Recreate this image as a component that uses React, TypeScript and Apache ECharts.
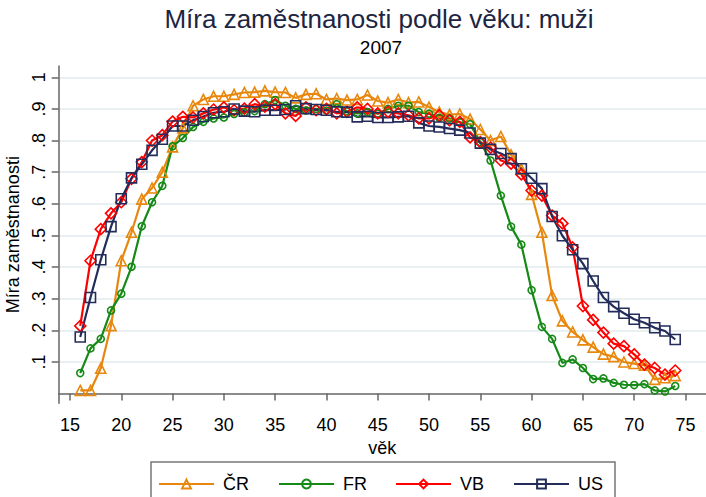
import React, { useEffect, useRef } from 'react';
import * as echarts from 'echarts';

const ages = [16, 17, 18, 19, 20, 21, 22, 23, 24, 25, 26, 27, 28, 29, 30, 31, 32, 33, 34, 35, 36, 37, 38, 39, 40, 41, 42, 43, 44, 45, 46, 47, 48, 49, 50, 51, 52, 53, 54, 55, 56, 57, 58, 59, 60, 61, 62, 63, 64, 65, 66, 67, 68, 69, 70, 71, 72, 73, 74];

const crValues = [0.01, 0.01, 0.08, 0.215, 0.42, 0.51, 0.615, 0.65, 0.70, 0.78, 0.84, 0.91, 0.93, 0.94, 0.94, 0.946, 0.952, 0.953, 0.957, 0.953, 0.952, 0.935, 0.946, 0.948, 0.93, 0.933, 0.928, 0.93, 0.944, 0.925, 0.92, 0.93, 0.92, 0.922, 0.906, 0.89, 0.882, 0.884, 0.868, 0.835, 0.80, 0.813, 0.755, 0.71, 0.63, 0.51, 0.31, 0.23, 0.195, 0.17, 0.147, 0.125, 0.117, 0.10, 0.095, 0.09, 0.045, 0.05, 0.057];

const frValues = [0.065, 0.143, 0.173, 0.263, 0.316, 0.401, 0.529, 0.605, 0.657, 0.782, 0.808, 0.843, 0.859, 0.870, 0.873, 0.884, 0.889, 0.893, 0.915, 0.928, 0.91, 0.9, 0.895, 0.9, 0.895, 0.915, 0.892, 0.886, 0.89, 0.885, 0.90, 0.91, 0.91, 0.89, 0.885, 0.872, 0.87, 0.858, 0.852, 0.795, 0.737, 0.626, 0.528, 0.471, 0.327, 0.211, 0.173, 0.097, 0.108, 0.081, 0.046, 0.048, 0.034, 0.028, 0.027, 0.03, 0.01, 0.007, 0.024];

const vbValues = [0.214, 0.42, 0.52, 0.57, 0.605, 0.679, 0.732, 0.80, 0.817, 0.86, 0.875, 0.873, 0.886, 0.898, 0.905, 0.896, 0.901, 0.915, 0.907, 0.915, 0.886, 0.878, 0.905, 0.896, 0.9, 0.886, 0.891, 0.905, 0.9, 0.886, 0.891, 0.886, 0.88, 0.87, 0.87, 0.88, 0.864, 0.859, 0.81, 0.795, 0.778, 0.737, 0.727, 0.693, 0.642, 0.626, 0.563, 0.538, 0.462, 0.277, 0.233, 0.193, 0.158, 0.15, 0.124, 0.092, 0.081, 0.06, 0.073];

const usValues = [0.179, 0.304, 0.423, 0.528, 0.616, 0.682, 0.725, 0.769, 0.804, 0.846, 0.846, 0.864, 0.876, 0.888, 0.891, 0.9, 0.893, 0.891, 0.896, 0.896, 0.898, 0.91, 0.901, 0.898, 0.896, 0.891, 0.89, 0.875, 0.877, 0.873, 0.873, 0.875, 0.877, 0.856, 0.846, 0.843, 0.838, 0.833, 0.824, 0.792, 0.772, 0.759, 0.743, 0.711, 0.681, 0.648, 0.56, 0.499, 0.455, 0.411, 0.356, 0.304, 0.275, 0.254, 0.235, 0.224, 0.208, 0.198, 0.171];

const xTicks = [15, 20, 25, 30, 35, 40, 45, 50, 55, 60, 65, 70, 75];
const yTicks = [0.1, 0.2, 0.3, 0.4, 0.5, 0.6, 0.7, 0.8, 0.9, 1];
const yTickLabels = ['.1', '.2', '.3', '.4', '.5', '.6', '.7', '.8', '.9', '1'];

const seriesNames = ['ČR', 'FR', 'VB', 'US'];
const seriesColors = ['#E8870E', '#168A16', '#FF0000', '#232C5A'];

export default function App() {
  const ref = useRef<HTMLDivElement>(null);
  useEffect(() => {
    const chart = echarts.init(ref.current!, null, { renderer: 'svg' });
    const font = '"Liberation Sans", Arial, sans-serif';
    const values = [crValues, frValues, vbValues, usValues];
    const symbols = ['triangle', 'circle', 'diamond', 'rect'];
    const sizes = [10, 7, 11, 10];
    const series = seriesNames.map((name, k) => ({
      name,
      type: 'line',
      data: ages.map((a, i) => [a, values[k][i]]),
      symbol: symbols[k],
      symbolSize: sizes[k],
      showSymbol: true,
      showAllSymbol: true,
      color: seriesColors[k],
      lineStyle: { color: seriesColors[k], width: 2.2 },
      itemStyle: { color: 'rgba(255,255,255,0)', borderColor: seriesColors[k], borderWidth: 1.6 },
      emphasis: { disabled: true },
    }));
    const legendLefts = [158, 278, 395, 513];
    const legends = seriesNames.map((name, k) => ({
      data: [name],
      left: legendLefts[k],
      top: 475,
      itemWidth: 55,
      itemHeight: 11,
      padding: 0,
      selectedMode: false,
      textStyle: { fontFamily: font, fontSize: 18, color: '#000', padding: [0, 0, 0, 4] },
    }));
    chart.setOption({
      animation: false,
      backgroundColor: '#fff',
      title: [
        {
          text: 'Míra zaměstnanosti podle věku: muži',
          left: 379,
          top: 6,
          textAlign: 'center',
          padding: 0,
          textStyle: { fontFamily: font, fontSize: 26, fontWeight: 'normal', color: '#1c2541' },
        },
        {
          text: '2007',
          left: 381,
          top: 38,
          textAlign: 'center',
          padding: 0,
          textStyle: { fontFamily: font, fontSize: 19, fontWeight: 'normal', color: '#000' },
        },
      ],
      legend: legends,
      grid: { left: 58.7, right: 0, top: 66, bottom: 93.7, containLabel: false, outerBoundsMode: 'none' },
      xAxis: {
        type: 'value',
        min: 13.9,
        max: 77,
        name: 'věk',
        nameLocation: 'middle',
        nameGap: 29,
        nameTextStyle: { fontFamily: font, fontSize: 18, color: '#000' },
        axisLine: { show: true, lineStyle: { color: '#666', width: 1.5 } },
        axisTick: { show: true, length: 7, customValues: xTicks, lineStyle: { color: '#666', width: 1.5 } },
        axisLabel: { customValues: xTicks, fontFamily: font, fontSize: 18, color: '#000', margin: 13 },
        splitLine: { show: false },
      },
      yAxis: {
        type: 'value',
        min: -0.0306,
        max: 1.0357,
        name: 'Míra zaměstnanosti',
        nameLocation: 'middle',
        nameGap: 27,
        nameTextStyle: { fontFamily: font, fontSize: 18, color: '#000' },
        axisLine: { show: true, lineStyle: { color: '#666', width: 1.5 } },
        axisTick: { show: true, length: 7, customValues: yTicks, lineStyle: { color: '#666', width: 1.5 } },
        axisLabel: {
          customValues: yTicks,
          rotate: 90,
          margin: 11,
          fontFamily: font,
          fontSize: 18,
          color: '#000',
          formatter: (v: number) => {
            const idx = yTicks.findIndex((t) => Math.abs(t - v) < 1e-6);
            return idx >= 0 ? yTickLabels[idx] : '';
          },
        },
        splitLine: { show: true, lineStyle: { color: '#E8F0F2', width: 2 } },
      },
      graphic: [
        {
          type: 'rect',
          shape: { x: 151, y: 462, width: 464, height: 60 },
          style: { fill: 'none', stroke: '#777', lineWidth: 1.5 },
          silent: true,
        },
      ],
      series,
    });
    return () => chart.dispose();
  }, []);
  return <div ref={ref} style={{ position: 'absolute', left: 0, top: 0, width: 706, height: 497 }} />;
}
